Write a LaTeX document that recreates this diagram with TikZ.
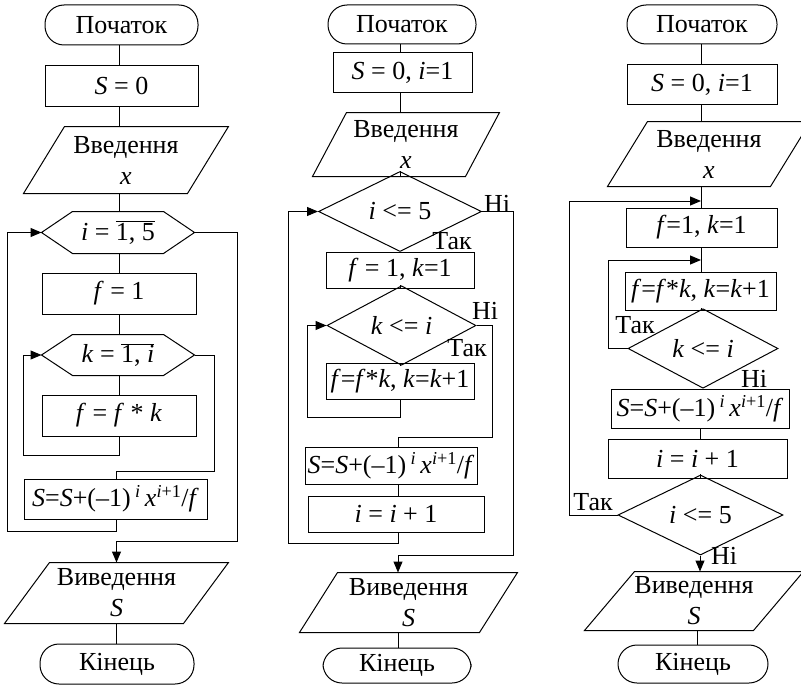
\documentclass[tikz,border=0pt]{standalone}
\usepackage{fontspec}
\setmainfont{Liberation Serif}
\usetikzlibrary{shapes.geometric,arrows.meta,calc}
\newcommand\mysum{\textit{S}=\textit{S}+(–1)\,\textsuperscript{\textit{i}}\,\textit{x}\textsuperscript{\textit{i}+1}/\textit{f}}
\newcommand\mypara[2]{\draw ($(#1.north west)+(#2,0)$) -- (#1.north east) -- ($(#1.south east)+(-#2,0)$) -- (#1.south west) -- cycle;}
\newcommand\myhex[2]{\draw (#1.west) -- ($(#1.north west)+(#2,0)$) -- ($(#1.north east)+(-#2,0)$) -- (#1.east) -- ($(#1.south east)+(-#2,0)$) -- ($(#1.south west)+(#2,0)$) -- cycle;}
\begin{document}
\begin{tikzpicture}[x=1pt,y=-1pt,line width=1pt,
  font=\fontsize{26}{31}\selectfont,
  proc/.style={draw,rectangle,inner sep=0pt},
  term/.style={draw,rectangle,rounded corners=19pt,inner sep=0pt},
  io/.style={rectangle,inner sep=0pt,align=center},
  loopb/.style={rectangle,inner sep=0pt},
  dec/.style={draw,diamond,inner sep=0pt},
  lbl/.style={inner sep=0pt},
  arr/.style={-{Triangle[length=11pt,width=9pt]}}]
\useasboundingbox (0,0) rectangle (801,685);
% axes
\coordinate (ax1) at (119.5,0);
\coordinate (ax1b) at (116.5,0);
\coordinate (ax2) at (400,0);
\coordinate (ax2b) at (398,0);
\coordinate (ax3) at (701,0);
\coordinate (ax3b) at (700,0);
\coordinate (ax3c) at (697,0);
% ---------------- column 1
\node[term,minimum width=153pt,minimum height=40pt] (t1) at (121.5,25) {Початок};
\node[proc,minimum width=153pt,minimum height=40pt] (b1) at (121.5,86) {\textit{S} = 0};
\node[io,minimum width=204pt,minimum height=66pt] (p1) at (126,160) {Введення\\\textit{x}};
\mypara{p1}{41}
\node[loopb,minimum width=152pt,minimum height=41pt] (h1) at (118,232.5) {\textit{i} = $\overline{\mbox{1, 5}}$};
\myhex{h1}{31}
\node[proc,minimum width=154pt,minimum height=41pt] (r1) at (119,293.5) {\textit{f} = 1};
\node[loopb,minimum width=152pt,minimum height=40pt] (h2) at (118,355) {\textit{k} = $\overline{\mbox{1, \textit{i}}}$};
\myhex{h2}{31}
\node[proc,minimum width=154pt,minimum height=41pt] (r2) at (119,415.5) {\textit{f} = \textit{f} * \textit{k}};
\node[proc,minimum width=183pt,minimum height=40pt] (r3) at (115.5,499) {\mysum};
\node[io,minimum width=223pt,minimum height=60pt] (p2) at (116.5,593) {Виведення\\\textit{S}};
\mypara{p2}{45}
\node[term,minimum width=154pt,minimum height=40pt] (e1) at (117,664) {Кінець};
\coordinate (c1) at (7,531);
\coordinate (c2) at (23,455.5);
\coordinate (c3) at (214,471);
\coordinate (c4) at (237,541);
\draw (t1.south -| ax1) -- (b1.north -| ax1);
\draw (b1.south -| ax1) -- (p1.north -| ax1);
\draw (p1.south -| ax1) -- (h1.north -| ax1);
\draw (h1.south -| ax1) -- (r1.north -| ax1);
\draw (r1.south -| ax1) -- (h2.north -| ax1);
\draw (h2.south -| ax1) -- (r2.north -| ax1);
\draw (p2.south -| ax1b) -- (e1.north -| ax1b);
\draw[arr] (r2.south -| ax1) |- (c2) |- (h2.west);
\draw (h2.east) -| (c3) -| (r3.north -| ax1b);
\draw[arr] (r3.south -| ax1b) |- (c1) |- (h1.west);
\draw[arr] (h1.east) -| (c4) -| (p2.north -| ax1b);
% ---------------- column 2
\node[term,minimum width=148pt,minimum height=39pt] (t2) at (402,24.5) {Початок};
\node[proc,minimum width=139pt,minimum height=40pt] (b2) at (402.5,73) {\textit{S} = 0, \textit{i}=1};
\node[io,minimum width=186pt,minimum height=63pt] (p3) at (406,144.5) {Введення\\\textit{x}};
\mypara{p3}{34}
\node[dec,minimum width=163pt,minimum height=51pt] (d1) at (400,211.5) {\textit{i} <= 5};
\node[proc,minimum width=148pt,minimum height=36pt] (r4) at (400,270) {\textit{f} = 1, \textit{k}=1};
\node[dec,minimum width=149pt,minimum height=55pt] (d2) at (401.5,325.5) {\textit{k} <= \textit{i}};
\node[proc,minimum width=148pt,minimum height=36pt] (r5) at (400,381) {\textit{f}=\textit{f}*\textit{k}, \textit{k}=\textit{k}+1};
\node[proc,minimum width=172pt,minimum height=37pt] (r6) at (391,465.5) {\mysum};
\node[proc,minimum width=176pt,minimum height=36pt] (r7) at (396,514) {\textit{i} = \textit{i} + 1};
\node[io,minimum width=217pt,minimum height=59pt] (p4) at (408.5,602.5) {Виведення\\\textit{S}};
\mypara{p4}{38}
\node[term,minimum width=148pt,minimum height=35pt] (e2) at (397,665.5) {Кінець};
\node[lbl] (n1) at (497,204) {Ні};
\node[lbl] (y1) at (452,241) {Так};
\node[lbl] (n2) at (485,311) {Ні};
\node[lbl] (y2) at (467,348) {Так};
\coordinate (c5) at (513,555);
\coordinate (c6) at (288,543);
\coordinate (c7) at (492,437);
\coordinate (c8) at (307,417);
\draw (t2.south -| ax2) -- (b2.north -| ax2);
\draw (b2.south -| ax2) -- (p3.north -| ax2);
\draw (p3.south -| ax2) -- (d1.north -| ax2);
\draw (d1.south -| ax2) -- (r4.north -| ax2);
\draw (r4.south -| ax2) -- (d2.north -| ax2);
\draw (d2.south -| ax2) -- (r5.north -| ax2);
\draw (r6.south -| ax2b) -- (r7.north -| ax2b);
\draw (p4.south -| ax2b) -- (e2.north -| ax2b);
\draw[arr] (r5.south -| ax2) |- (c8) |- (d2.west);
\draw (d2.east) -| (c7) -| (r6.north -| ax2b);
\draw[arr] (r7.south -| ax2b) |- (c6) |- (d1.west);
\draw[arr] (d1.east) -| (c5) -| (p4.north -| ax2b);
% ---------------- column 3
\node[term,minimum width=150pt,minimum height=39pt] (t3) at (702,24.5) {Початок};
\node[proc,minimum width=150pt,minimum height=39pt] (b3) at (702,84.5) {\textit{S} = 0, \textit{i}=1};
\node[io,minimum width=202pt,minimum height=64pt] (p5) at (709,154) {Введення\\\textit{x}};
\mypara{p5}{40}
\node[proc,minimum width=151pt,minimum height=39pt] (r8) at (701.5,227.5) {\textit{f}=1, \textit{k}=1};
\node[proc,minimum width=151pt,minimum height=38pt] (r9) at (700.5,291) {\textit{f}=\textit{f}*\textit{k}, \textit{k}=\textit{k}+1};
\node[dec,minimum width=150pt,minimum height=51pt] (d3) at (703,348.5) {\textit{k} <= \textit{i}};
\node[proc,minimum width=178pt,minimum height=39pt] (r10) at (700,408.5) {\mysum};
\node[proc,minimum width=179pt,minimum height=39pt] (r11) at (697.5,458.5) {\textit{i} = \textit{i} + 1};
\node[dec,minimum width=165pt,minimum height=56pt] (d4) at (700.5,515) {\textit{i} <= 5};
\node[io,minimum width=218pt,minimum height=58pt] (p6) at (694,601) {Виведення\\\textit{S}};
\mypara{p6}{50}
\node[term,minimum width=150pt,minimum height=38pt] (e3) at (693,664) {Кінець};
\node[lbl] (y3) at (635,325) {Так};
\node[lbl] (n3) at (754,379) {Ні};
\node[lbl] (y4) at (593,502) {Так};
\node[lbl] (n4) at (724,556) {Ні};
\coordinate (c9) at (569,201);
\coordinate (c10) at (608,260);
\draw (t3.south -| ax3) -- (b3.north -| ax3);
\draw (b3.south -| ax3) -- (p5.north -| ax3);
\draw (p5.south -| ax3) -- (r8.north -| ax3);
\draw (r8.south -| ax3) -- (r9.north -| ax3);
\draw (r9.south -| ax3) -- (d3.north -| ax3);
\draw (d3.south -| ax3b) -- (r10.north -| ax3b);
\draw (r10.south -| ax3b) -- (r11.north -| ax3b);
\draw (r11.south -| ax3b) -- (d4.north -| ax3b);
\draw[arr] (d4.south -| ax3b) -- (p6.north -| ax3b);
\draw (p6.south -| ax3c) -- (e3.north -| ax3c);
\draw[arr] (d3.west) -| (c10) -- (c10 -| ax3);
\draw[arr] (d4.west) -| (c9) -- (c9 -| ax3);
\end{tikzpicture}
\end{document}
